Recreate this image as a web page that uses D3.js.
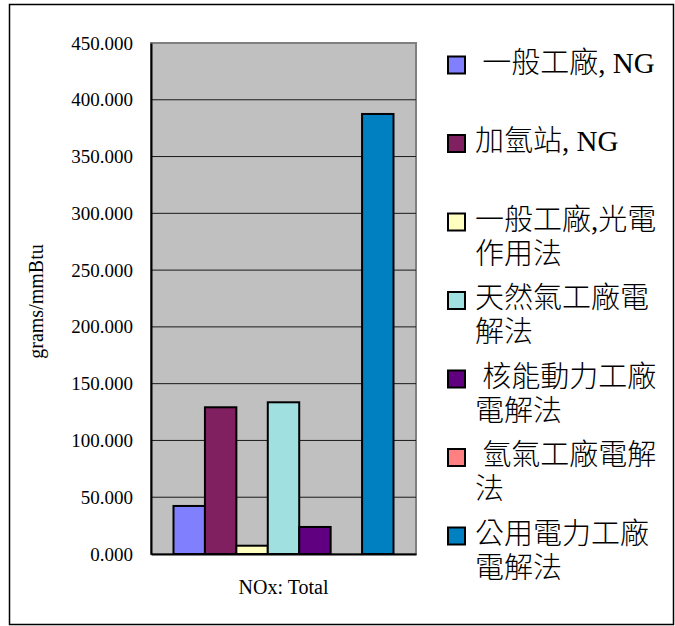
<!DOCTYPE html>
<html>
<head>
<meta charset="utf-8">
<script src="https://cdn.jsdelivr.net/npm/d3@7"></script>
<style>
  html, body { margin: 0; padding: 0; background: #fff; }
  svg { display: block; }
  text { font-family: "Liberation Serif", "Times New Roman", "Noto Sans CJK TC", serif; fill: #000; }
  .legend-text { font-weight: 300; }
</style>
</head>
<body>
<svg id="chart" width="675" height="626"></svg>
<script>
// NOx emissions, grams per mmBtu of hydrogen, by production pathway
const categories = ["NOx: Total"];
const seriesNames = [
  "一般工廠, NG",
  "加氫站, NG",
  "一般工廠,光電作用法",
  "天然氣工廠電解法",
  "核能動力工廠電解法",
  "氫氣工廠電解法",
  "公用電力工廠電解法"
];
const legendLines = [
  [" 一般工廠, NG"],
  ["加氫站, NG"],
  ["一般工廠,光電", "作用法"],
  ["天然氣工廠電", "解法"],
  [" 核能動力工廠", "電解法"],
  [" 氫氣工廠電解", "法"],
  ["公用電力工廠", "電解法"]
];
const seriesValues = [42.3, 129.2, 7.3, 133.6, 23.8, 0, 387.5];
const seriesColors = ["#8080FF", "#802060", "#FFFFC0", "#A0E0E0", "#600080", "#FF8080", "#0080C0"];
const yTicks = [0, 50, 100, 150, 200, 250, 300, 350, 400, 450];
const yTitle = "grams/mmBtu";

const serif = "'Liberation Serif', 'Times New Roman', serif";
const svg = d3.select("#chart");

// outer chart frame
svg.append("rect")
  .attr("x", 9.5).attr("y", 4.5)
  .attr("width", 664).attr("height", 620)
  .attr("fill", "#fff").attr("stroke", "#000").attr("stroke-width", 1.5);

const plot = { left: 151, right: 416, top: 43, bottom: 554 };

const y = d3.scaleLinear().domain([0, 450]).range([plot.bottom, plot.top]);
const x0 = d3.scaleBand().domain(categories).range([plot.left, plot.right])
  .paddingInner(0.0928).paddingOuter(0.0928);
const x1 = d3.scaleBand().domain(seriesNames).range([0, x0.bandwidth()]);

// plot area background
svg.append("rect")
  .attr("x", plot.left).attr("y", plot.top)
  .attr("width", plot.right - plot.left).attr("height", plot.bottom - plot.top)
  .attr("fill", "#C0C0C0").attr("stroke", "#808080").attr("stroke-width", 2);

// horizontal gridlines
svg.append("g")
  .selectAll("line")
  .data(yTicks.filter(t => t > 0 && t < 450))
  .join("line")
  .attr("x1", plot.left).attr("x2", plot.right)
  .attr("y1", d => y(d)).attr("y2", d => y(d))
  .attr("stroke", "#1a1a1a").attr("stroke-width", 1);

// y axis
const yAxis = d3.axisLeft(y).tickValues(yTicks).tickFormat(d3.format(".3f")).tickSize(0).tickPadding(18);
const gy = svg.append("g").attr("transform", `translate(${plot.left},0)`).call(yAxis)
  .attr("font-family", serif).attr("font-size", 19);
gy.select(".domain").attr("stroke", "#000").attr("stroke-width", 2);
gy.selectAll("text")
  .attr("font-family", serif)
  .style("font-family", serif)
  .style("font-size", "19px").attr("fill", "#000");

// bars
const groups = svg.append("g")
  .selectAll("g")
  .data(categories)
  .join("g")
  .attr("transform", d => `translate(${x0(d)},0)`);

groups.selectAll("rect")
  .data(() => seriesNames.map((name, i) => ({ name, value: seriesValues[i], color: seriesColors[i] })))
  .join("rect")
  .attr("x", d => x1(d.name))
  .attr("width", x1.bandwidth())
  .attr("y", d => y(d.value))
  .attr("height", d => y(0) - y(d.value))
  .attr("fill", d => d.color)
  .attr("stroke", "#000").attr("stroke-width", 2);

// x axis
const xAxis = d3.axisBottom(x0).tickSize(0).tickPadding(26);
const gx = svg.append("g").attr("transform", `translate(0,${plot.bottom})`).call(xAxis)
  .attr("font-family", serif).attr("font-size", 20);
gx.select(".domain").attr("stroke", "#000").attr("stroke-width", 2);
gx.selectAll("text")
  .attr("font-family", serif)
  .style("font-family", serif)
  .style("font-size", "20px").attr("fill", "#000");

// y axis title
svg.append("text")
  .attr("transform", `translate(43,${(plot.top + plot.bottom) / 2 + 3}) rotate(-90)`)
  .attr("text-anchor", "middle")
  .style("font-family", serif)
  .style("font-size", "20px")
  .text(yTitle);

// legend
const legend = svg.append("g");
const legendTop = 62.5, legendStep = 78.5, lineGap = 34;
seriesNames.forEach((name, i) => {
  const cy = legendTop + i * legendStep;
  const g = legend.append("g");
  g.append("rect")
    .attr("x", 448).attr("y", cy - 6)
    .attr("width", 17).attr("height", 17)
    .attr("fill", seriesColors[i])
    .attr("stroke", "#000").attr("stroke-width", 2);
  legendLines[i].forEach((line, j) => {
    g.append("text")
      .attr("class", "legend-text")
      .attr("x", 475).attr("y", cy + j * lineGap)
      .attr("dy", "0.36em")
      .attr("xml:space", "preserve")
      .style("white-space", "pre")
      .style("font-size", "29px")
      .text(line);
  });
});
</script>
</body>
</html>
